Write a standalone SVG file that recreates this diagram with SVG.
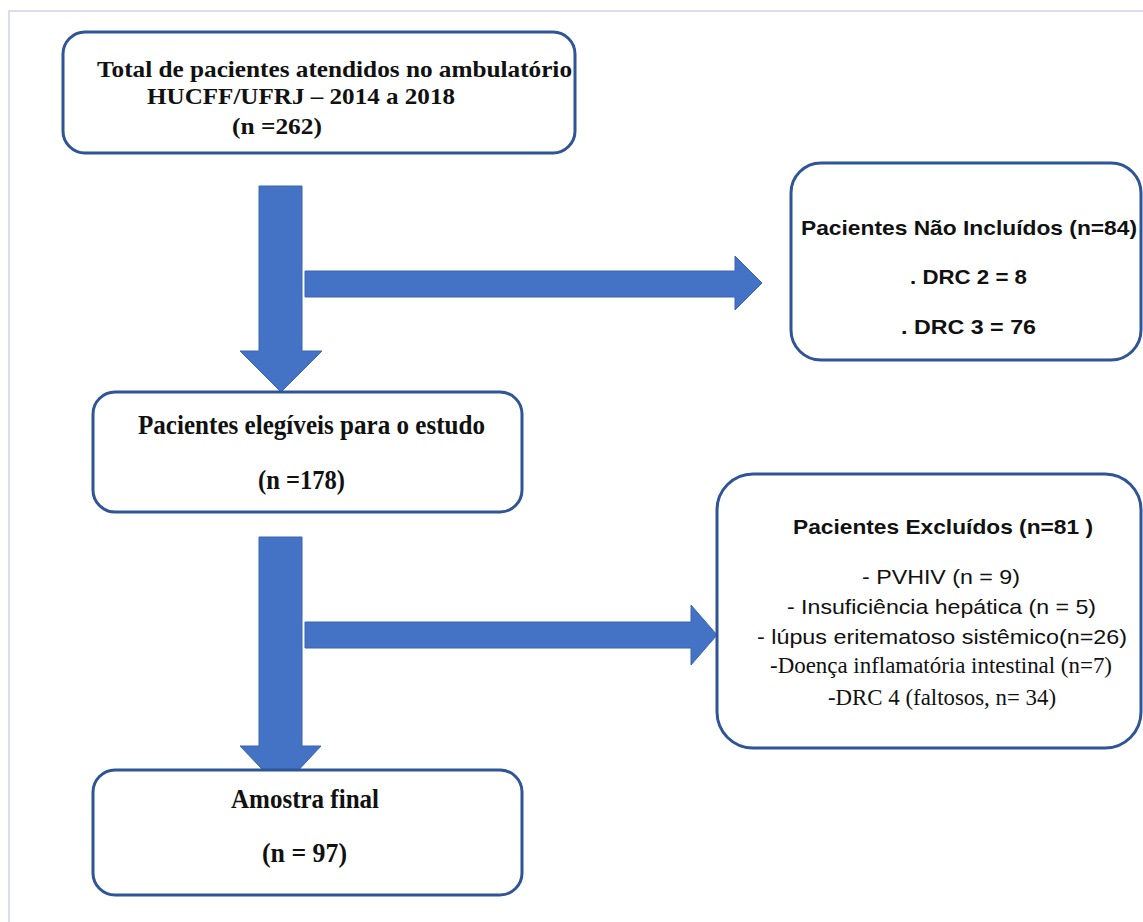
<svg xmlns="http://www.w3.org/2000/svg" width="1143" height="922" viewBox="0 0 1143 922">
<style>
.box{fill:#ffffff;stroke:#2f5597;stroke-width:3}
.arr{fill:#4472c4;stroke:#3a64b0;stroke-width:1}
.serifb{font-family:"Liberation Serif","Times New Roman",serif;font-weight:bold;font-size:27px;fill:#111}
.t1{font-size:24px}
.serif{font-family:"Liberation Serif","Times New Roman",serif;font-size:23px;fill:#111}
.sansb{font-family:"Liberation Sans",Arial,sans-serif;font-weight:bold;font-size:21px;fill:#111}
.sans{font-family:"Liberation Sans",Arial,sans-serif;font-size:21px;fill:#111}
</style>
<rect x="0" y="0" width="1143" height="922" fill="#ffffff"/>
<path d="M9 922 V11 H1143" fill="none" stroke="#d9dfea" stroke-width="2"/>
<g id="connectors">
<polygon class="arr" points="259,186 302,186 302,351 322,351 281,392 240,351 259,351"/>
<polygon class="arr" points="305,271 735,271 735,256 762,283 735,310 735,297 305,297"/>
<polygon class="arr" points="259,537 302,537 302,746 321,746 281,789 240,746 259,746"/>
<polygon class="arr" points="305,622 691,622 691,605 717,635 691,665 691,648 305,648"/>
</g>
<g id="total">
<rect class="box" x="63" y="32" width="512" height="121" rx="22"/>
<text class="serifb t1" x="97" y="77" textLength="475" lengthAdjust="spacingAndGlyphs">Total de pacientes atendidos no ambulatório</text>
<text class="serifb t1" x="147" y="104" textLength="308" lengthAdjust="spacingAndGlyphs">HUCFF/UFRJ – 2014 a 2018</text>
<text class="serifb t1" x="232" y="134" textLength="90" lengthAdjust="spacingAndGlyphs">(n =262)</text>
</g>
<g id="nao-incluidos">
<rect class="box" x="791" y="163" width="350" height="197" rx="30"/>
<text class="sansb" x="801" y="235" textLength="336" lengthAdjust="spacingAndGlyphs">Pacientes Não Incluídos (n=84)</text>
<text class="sansb" x="910" y="284" textLength="117" lengthAdjust="spacingAndGlyphs">. DRC 2 = 8</text>
<text class="sansb" x="901" y="334" textLength="135" lengthAdjust="spacingAndGlyphs">. DRC 3 = 76</text>
</g>
<g id="elegiveis">
<rect class="box" x="93" y="392" width="429" height="120" rx="22"/>
<text class="serifb" x="138" y="434" textLength="347" lengthAdjust="spacingAndGlyphs">Pacientes elegíveis para o estudo</text>
<text class="serifb" x="258" y="489" textLength="87" lengthAdjust="spacingAndGlyphs">(n =178)</text>
</g>
<g id="excluidos">
<rect class="box" x="717" y="474" width="424" height="274" rx="36"/>
<text class="sansb" x="793" y="534" textLength="300" lengthAdjust="spacingAndGlyphs">Pacientes Excluídos (n=81 )</text>
<text class="sans" x="862" y="584" textLength="158" lengthAdjust="spacingAndGlyphs">- PVHIV (n = 9)</text>
<text class="sans" x="787" y="614" textLength="309" lengthAdjust="spacingAndGlyphs">- Insuficiência hepática (n = 5)</text>
<text class="sans" x="757" y="644" textLength="370" lengthAdjust="spacingAndGlyphs">- lúpus eritematoso sistêmico(n=26)</text>
<text class="serif" x="770" y="673" textLength="342" lengthAdjust="spacingAndGlyphs">-Doença inflamatória intestinal (n=7)</text>
<text class="serif" x="828" y="705" textLength="228" lengthAdjust="spacingAndGlyphs">-DRC 4 (faltosos, n= 34)</text>
</g>
<g id="amostra">
<rect class="box" x="93" y="770" width="429" height="125" rx="22"/>
<text class="serifb" x="231" y="808" textLength="148" lengthAdjust="spacingAndGlyphs">Amostra final</text>
<text class="serifb" x="262" y="862" textLength="85" lengthAdjust="spacingAndGlyphs">(n = 97)</text>
</g>
</svg>
